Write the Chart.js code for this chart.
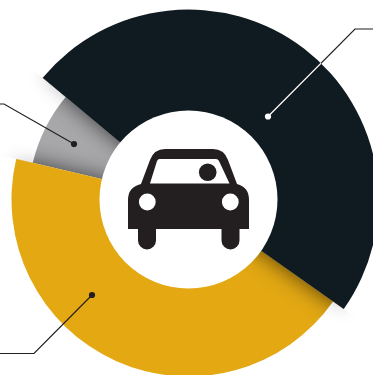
<!DOCTYPE html>
<html>
<head>
<meta charset="utf-8">
<title>Car ring chart</title>
<style>
  html, body { margin: 0; padding: 0; background: #fff; overflow: hidden; }
  canvas { display: block; }
</style>
<script src="https://cdn.jsdelivr.net/npm/chart.js@4/dist/chart.umd.min.js"></script>
</head>
<body>
<canvas id="ringChart" width="373" height="375"></canvas>
<script>
// -------------------------------
// Chart data (share of the ring, in %)
// -------------------------------
const categories = ["Yellow", "Gray", "Navy"];
const shares = [43.9, 7.4, 48.7];
const sliceColors = ["#e3a812", "#a8a8ab", "#101b21"];

// Ring geometry
const CENTER = { x: 188.5, y: 199.5 };
const HOLE_RADIUS = 89;
const OUTER_RADII = [177, 160, 190];
const START_ANGLE = 125.2;
const CASTS_SHADOW = [true, false, true];

const DARK = "#231f20";

// -------------------------------
// Doughnut with a separate radius per slice, smallest drawn first
// -------------------------------
class RingController extends Chart.DoughnutController {
  update(mode) {
    super.update(mode);
    this.getMeta().data.forEach((arc, i) => {
      arc.x = CENTER.x;
      arc.y = CENTER.y;
      arc.innerRadius = 0;
      arc.outerRadius = OUTER_RADII[i];
    });
  }

  draw() {
    const ctx = this.chart.ctx;
    const arcs = this.getMeta().data;
    const order = arcs.map((_, i) => i).sort((a, b) => OUTER_RADII[a] - OUTER_RADII[b]);

    order.forEach(i => {
      const arc = arcs[i];
      if (CASTS_SHADOW[i]) {
        // shadow falls only past the straight edges, not along the curved rim
        ctx.save();
        ctx.beginPath();
        ctx.moveTo(arc.x, arc.y);
        ctx.arc(arc.x, arc.y, 400, arc.endAngle, arc.startAngle + Math.PI * 2);
        ctx.closePath();
        ctx.clip();

        // strong on the slices already drawn
        ctx.globalCompositeOperation = "source-atop";
        ctx.shadowColor = "rgba(0,0,0,0.65)";
        ctx.shadowBlur = 22;
        arc.draw(ctx);

        // faint on the empty page
        ctx.globalCompositeOperation = "destination-over";
        ctx.shadowColor = "rgba(0,0,0,0.22)";
        ctx.shadowBlur = 18;
        arc.draw(ctx);
        ctx.restore();
      }
      arc.draw(ctx);
    });
  }
}
RingController.id = "ring";
RingController.defaults = Chart.DoughnutController.defaults;
RingController.overrides = Chart.DoughnutController.overrides;
Chart.register(RingController);

// -------------------------------
// White hole and car icon
// -------------------------------
function drawCar(ctx) {
  ctx.fillStyle = DARK;

  // body and roof
  ctx.beginPath();
  ctx.moveTo(128, 229);
  ctx.lineTo(128, 200);
  ctx.quadraticCurveTo(128, 187, 141, 184);
  ctx.lineTo(150, 160);
  ctx.quadraticCurveTo(154, 149, 165, 149);
  ctx.lineTo(213, 149);
  ctx.quadraticCurveTo(224, 149, 228, 160);
  ctx.lineTo(237, 184);
  ctx.quadraticCurveTo(249, 187, 249, 200);
  ctx.lineTo(249, 229);
  ctx.closePath();
  ctx.fill();

  // wheels
  ctx.beginPath();
  ctx.roundRect(138, 222, 18, 27.5, [0, 0, 9, 9]);
  ctx.roundRect(221.5, 222, 18, 27.5, [0, 0, 9, 9]);
  ctx.fill();

  // windscreen and headlights
  ctx.fillStyle = "#fff";
  ctx.beginPath();
  ctx.moveTo(159.5, 159);
  ctx.lineTo(216, 159);
  ctx.quadraticCurveTo(218, 159, 219, 161);
  ctx.lineTo(229.5, 183.5);
  ctx.lineTo(150, 183.5);
  ctx.lineTo(157, 161);
  ctx.quadraticCurveTo(158, 159, 159.5, 159);
  ctx.closePath();
  ctx.fill();

  ctx.beginPath();
  ctx.arc(147.3, 202, 8.4, 0, Math.PI * 2);
  ctx.arc(230.3, 202, 8.4, 0, Math.PI * 2);
  ctx.fill();

  // driver
  ctx.fillStyle = DARK;
  ctx.beginPath();
  ctx.arc(207.7, 172.3, 8.8, 0, Math.PI * 2);
  ctx.fill();
}

const centerPlugin = {
  id: "center",
  afterDatasetsDraw(chart) {
    const ctx = chart.ctx;
    ctx.save();
    ctx.fillStyle = "#fff";
    ctx.beginPath();
    ctx.arc(CENTER.x, CENTER.y, HOLE_RADIUS, 0, Math.PI * 2);
    ctx.fill();
    drawCar(ctx);
    ctx.restore();
  }
};

// -------------------------------
// Leader lines: one per slice
// -------------------------------
function leaderPath(ctx, points) {
  ctx.beginPath();
  points.forEach((p, i) => (i ? ctx.lineTo(p[0], p[1]) : ctx.moveTo(p[0], p[1])));
  ctx.stroke();
}

function drawLeader(ctx, points, color) {
  ctx.strokeStyle = color;
  leaderPath(ctx, points);
  ctx.fillStyle = color;
  ctx.beginPath();
  ctx.arc(points[0][0], points[0][1], 3.1, 0, Math.PI * 2);
  ctx.fill();
}

const leaderPlugin = {
  id: "leaders",
  afterDraw(chart) {
    const ctx = chart.ctx;
    const navyLine = [[268, 116.5], [355, 29], [373, 29]];

    ctx.save();
    ctx.lineWidth = 1.2;
    drawLeader(ctx, [[74, 144], [4, 104], [0, 104]], DARK);
    drawLeader(ctx, [[92, 295], [34, 353.5], [0, 353.5]], DARK);

    drawLeader(ctx, navyLine, DARK);
    // same line turns white over the navy slice
    ctx.beginPath();
    ctx.arc(CENTER.x, CENTER.y, OUTER_RADII[2], 0, Math.PI * 2);
    ctx.clip();
    drawLeader(ctx, navyLine, "#fff");
    ctx.restore();
  }
};

// -------------------------------
// Render Chart
// -------------------------------
new Chart(document.getElementById("ringChart"), {
  type: "ring",
  data: {
    labels: categories,
    datasets: [{
      data: shares,
      backgroundColor: sliceColors,
      borderWidth: 0,
      clip: false
    }]
  },
  options: {
    responsive: false,
    animation: false,
    rotation: START_ANGLE,
    plugins: {
      legend: { display: false },
      tooltip: { enabled: false }
    }
  },
  plugins: [centerPlugin, leaderPlugin]
});
</script>
</body>
</html>
